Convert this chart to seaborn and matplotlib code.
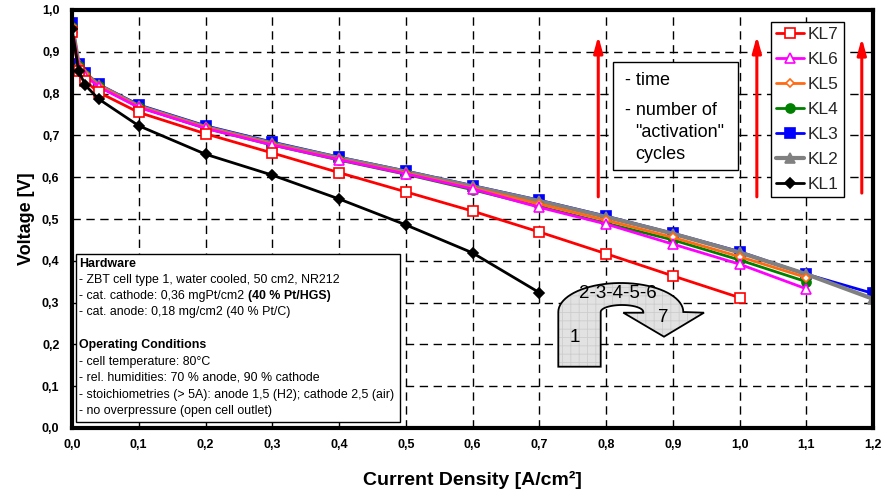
import numpy as np
import pandas as pd
import matplotlib
matplotlib.use("Agg")
import matplotlib.pyplot as plt
from matplotlib import font_manager
from matplotlib.path import Path
from matplotlib.patches import PathPatch, Rectangle
import seaborn as sns

# Polarisation curves after successive activation cycles
current = [0.0, 0.01, 0.02, 0.04, 0.1, 0.2, 0.3, 0.4, 0.5, 0.6, 0.7, 0.8, 0.9, 1.0, 1.1, 1.2]
kl1 = [0.955, 0.854, 0.820, 0.787, 0.723, 0.655, 0.605, 0.548, 0.486, 0.419, 0.324]
kl2 = [0.965, 0.870, 0.848, 0.820, 0.770, 0.720, 0.681, 0.646, 0.613, 0.578, 0.543, 0.505, 0.465, 0.420, 0.368, 0.309]
kl3 = [0.970, 0.872, 0.850, 0.822, 0.773, 0.723, 0.684, 0.648, 0.615, 0.580, 0.545, 0.507, 0.466, 0.422, 0.368, 0.322]
kl4 = [0.960, 0.865, 0.845, 0.818, 0.768, 0.717, 0.677, 0.641, 0.607, 0.570, 0.530, 0.490, 0.450, 0.402, 0.350]
kl5 = [0.962, 0.866, 0.846, 0.819, 0.769, 0.719, 0.679, 0.643, 0.610, 0.574, 0.536, 0.497, 0.456, 0.410, 0.360]
kl6 = [0.958, 0.862, 0.843, 0.816, 0.767, 0.717, 0.677, 0.642, 0.608, 0.572, 0.528, 0.488, 0.440, 0.392, 0.333]
kl7 = [0.948, 0.855, 0.830, 0.803, 0.755, 0.704, 0.658, 0.611, 0.565, 0.519, 0.469, 0.417, 0.364, 0.312]

x_ticks = [0.0, 0.1, 0.2, 0.3, 0.4, 0.5, 0.6, 0.7, 0.8, 0.9, 1.0, 1.1, 1.2]
y_ticks = [0.0, 0.1, 0.2, 0.3, 0.4, 0.5, 0.6, 0.7, 0.8, 0.9, 1.0]

sns.set_theme(style="white")
available = {f.name for f in font_manager.fontManager.ttflist}
narrow = "Liberation Sans Narrow" if "Liberation Sans Narrow" in available else "Liberation Sans"
plt.rcParams["font.family"] = ["Liberation Sans", "DejaVu Sans"]
plt.rcParams["hatch.linewidth"] = 0.6

fig = plt.figure(figsize=(8.93, 4.91), dpi=100)
ax = fig.add_axes([72 / 893, 63 / 491, 801 / 893, 418 / 491])

# series: name, values, colour, marker, marker face, marker size, line width
series = [
    ("KL3", kl3, "#0000ff", "s", "#0000ff", 7, 2.0),
    ("KL2", kl2, "#808080", "^", "#808080", 7.5, 3.0),
    ("KL4", kl4, "#008000", "o", "#008000", 6.5, 2.0),
    ("KL5", kl5, "#ff6a13", "D", "white", 4.5, 2.0),
    ("KL6", kl6, "#ff00ff", "^", "white", 7, 2.0),
    ("KL7", kl7, "#ff0000", "s", "white", 7, 2.0),
    ("KL1", kl1, "#000000", "D", "#000000", 5, 2.0),
]
handles = {}
for name, vals, col, mk, mfc, ms, lw in series:
    df = pd.DataFrame({"x": current[:len(vals)], "y": vals})
    sns.lineplot(data=df, x="x", y="y", ax=ax, color=col, marker=mk,
                 markerfacecolor=mfc, markeredgecolor=col, markersize=ms,
                 markeredgewidth=1.2, linewidth=lw, zorder=4)
    handles[name] = ax.lines[-1]

ax.set_xlim(0, 1.2)
ax.set_ylim(0, 1.0)
ax.set_xticks(x_ticks)
ax.set_yticks(y_ticks)
tick_font = dict(family=[narrow, "DejaVu Sans"], weight="bold", size=9)
ax.set_xticklabels([f"{v:.1f}".replace(".", ",") for v in x_ticks], **tick_font)
ax.set_yticklabels([f"{v:.1f}".replace(".", ",") for v in y_ticks], **tick_font)
ax.tick_params(axis="both", direction="in", length=0, pad=9, colors="black")
ax.tick_params(axis="x", pad=8)
ax.grid(True, color="black", linestyle=(0, (6, 4)), linewidth=1.0, zorder=1)
ax.set_axisbelow(True)
for sp in ax.spines.values():
    sp.set_visible(True)
    sp.set_color("black")
    sp.set_linewidth(3)
    sp.set_zorder(10)

ax.set_xlabel("Current Density [A/cm²]", family=[narrow, "DejaVu Sans"],
              weight="bold", size=14, labelpad=14, color="black")
ax.set_ylabel("Voltage [V]", weight="bold", size=13, labelpad=5, color="black")

# legend in reverse order of the measurements
order = ["KL7", "KL6", "KL5", "KL4", "KL3", "KL2", "KL1"]
leg = ax.legend([handles[n] for n in order], order, loc="upper left",
                bbox_to_anchor=(0.873, 0.971), borderaxespad=0, frameon=True,
                fancybox=False, edgecolor="black", framealpha=1,
                prop=dict(family="Liberation Sans", size=12.5),
                handlelength=1.6, handletextpad=0.2, labelspacing=0.56,
                borderpad=0.3)
leg.get_frame().set_linewidth(1.0)
leg.set_zorder(12)

# rising arrows
for xa, y0, y1 in [(0.657, 0.553, 0.938), (0.855, 0.553, 0.938), (0.986, 0.562, 0.933)]:
    ax.annotate("", xy=(xa, y1), xytext=(xa, y0), xycoords="axes fraction",
                arrowprops=dict(arrowstyle="-|>,head_length=0.8,head_width=0.22",
                                color="#ff0000", lw=2.2, shrinkA=0, shrinkB=0),
                zorder=6)

# explanation box for the arrows
ax.add_patch(Rectangle((0.675, 0.617), 0.156, 0.259, transform=ax.transAxes,
                       facecolor="white", edgecolor="black", linewidth=1.0, zorder=7))
txt = dict(transform=ax.transAxes, family="Liberation Sans", size=13,
           color="black", zorder=8, va="center", ha="left")
ax.text(0.690, 0.831, "- time", **txt)
ax.text(0.690, 0.760, "- number of", **txt)
ax.text(0.703, 0.707, "\"activation\"", **txt)
ax.text(0.703, 0.655, "cycles", **txt)

# test conditions box
ax.add_patch(Rectangle((0.005, 0.014), 0.405, 0.402, transform=ax.transAxes,
                       facecolor="white", edgecolor="black", linewidth=1.0, zorder=7))
info = dict(transform=ax.transAxes, family="Liberation Sans", size=8.9,
            color="black", zorder=8, va="center", ha="left")
x0 = 0.009
ax.text(x0, 0.393, "Hardware", weight="bold", **info)
ax.text(x0, 0.355, "- ZBT cell type 1, water cooled, 50 cm2, NR212", **info)
t = ax.text(x0, 0.316, "- cat. cathode: 0,36 mgPt/cm2 ", **info)
fig.canvas.draw()
bb = t.get_window_extent().transformed(ax.transAxes.inverted())
ax.text(bb.x1, 0.316, "(40 % Pt/HGS)", weight="bold", **info)
ax.text(x0, 0.278, "- cat. anode: 0,18 mg/cm2 (40 % Pt/C)", **info)
ax.text(x0, 0.199, "Operating Conditions", weight="bold", **info)
ax.text(x0, 0.159, "- cell temperature: 80°C", **info)
ax.text(x0, 0.120, "- rel. humidities: 70 % anode, 90 % cathode", **info)
ax.text(x0, 0.080, "- stoichiometries (> 5A): anode 1,5 (H2); cathode 2,5 (air)", **info)
ax.text(x0, 0.041, "- no overpressure (open cell outlet)", **info)

# U-turn arrow showing the order of the curves (pixel layout -> axes fraction)
def to_ax(px, py):
    return ((px - 72) / 801, (428 - py) / 418)

verts = [(558.3, 366.7), (558.3, 312.0)]
for a in np.linspace(np.pi, 0, 40):
    verts.append((620.8 + 62.5 * np.cos(a), 312.0 - 29.0 * np.sin(a)))
verts += [(704.0, 312.7), (664.0, 336.7), (623.3, 312.7), (643.3, 312.7)]
for a in np.linspace(0, np.pi, 25):
    verts.append((622.0 + 21.3 * np.cos(a), 312.0 - 7.0 * np.sin(a)))
verts += [(600.7, 366.7), (558.3, 366.7)]
pts = [to_ax(*v) for v in verts]
codes = [Path.MOVETO] + [Path.LINETO] * (len(pts) - 2) + [Path.CLOSEPOLY]
uturn_path = Path(pts, codes)
# light fill with a fine grid texture, then the black outline on top
ax.add_patch(PathPatch(uturn_path, transform=ax.transAxes, facecolor="#e2e2e2",
                       edgecolor="#cdcdcd", linewidth=0, hatch="++", zorder=7))
ax.add_patch(PathPatch(uturn_path, transform=ax.transAxes, facecolor="none",
                       edgecolor="black", linewidth=1.3, zorder=7.5))
lab = dict(transform=ax.transAxes, family="Liberation Sans", size=13.5,
           color="black", zorder=8, ha="center", va="center")
ax.text(*to_ax(618, 293), "2-3-4-5-6", **lab)
ax.text(*to_ax(575, 338), "1", **lab)
ax.text(*to_ax(663, 317), "7", **lab)

fig.savefig("out.png", dpi=100)
